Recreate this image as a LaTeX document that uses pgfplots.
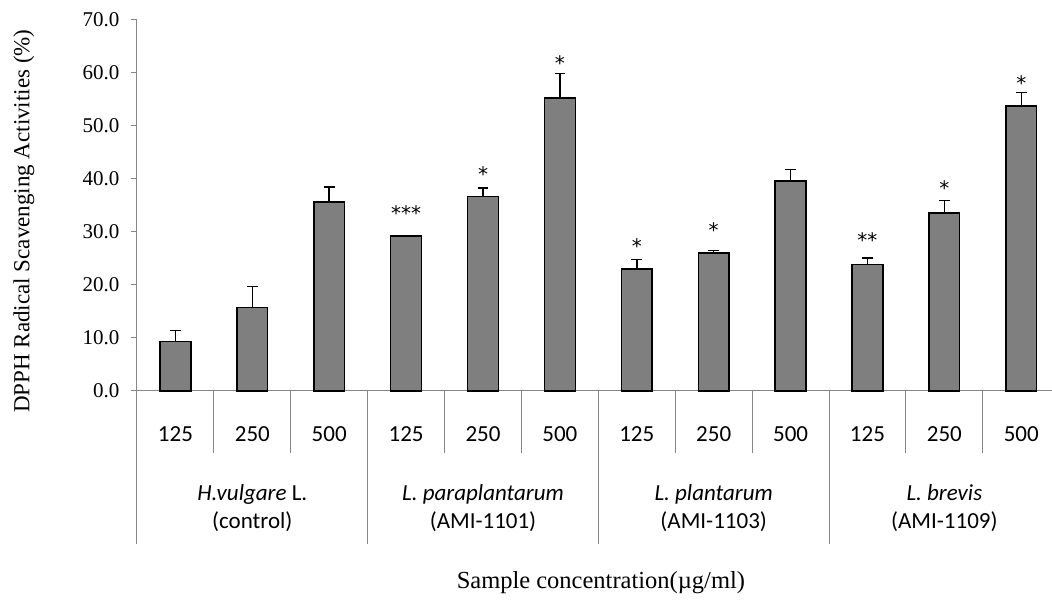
\documentclass[border=0pt]{standalone}
\usepackage{fontspec}
\setmainfont{Liberation Serif}
\newfontfamily\calibri{Carlito}
\newfontfamily\symfont{DejaVu Sans}
\usepackage{pgfplots}
\pgfplotsset{compat=1.18}
\usepackage{pgfplotstable}

\definecolor{barfill}{HTML}{7F7F7F}
\definecolor{axisgray}{HTML}{868686}

% DPPH scavenging activity (mean and upper error) per sample and concentration
\pgfplotstableread{
x  y    err
0  9.3  2.1
1  15.8 3.9
2  35.7 2.8
3  29.2 0.1
4  36.7 1.6
5  55.3 4.6
6  23.0 1.8
7  26.0 0.5
8  39.6 2.2
9  23.9 1.2
10 33.6 2.3
11 53.8 2.5
}\dpph

% significance marks (height of the mark centre)
\pgfplotstableread{
x  y    label
3  34.2 ***
4  41.6 *
5  62.5 *
6  28.0 *
7  31.0 *
9  29.1 **
10 38.9 *
11 58.8 *
}\stars

\begin{document}
\begin{tikzpicture}
\path[use as bounding box] (-137pt,-210pt) rectangle (915pt,391pt);
\begin{axis}[
  scale only axis,
  width=915pt, height=371pt,
  xmin=-0.5, xmax=11.4,
  ymin=0, ymax=70,
  clip=false,
  axis lines*=left,
  axis line style={axisgray, line width=1pt},
  tick align=outside,
  major tick length=6pt,
  ytick={0,10,...,70},
  y tick style={axisgray, line width=1pt},
  /pgf/number format/assume math mode=true,
  yticklabel={\fontsize{21}{25}\selectfont\pgfmathprintnumber[fixed,fixed zerofill,precision=1,assume math mode=true]{\tick}},
  yticklabel style={anchor=east, xshift=-8pt},
  xtick={0,...,11},
  xticklabels={125,250,500,125,250,500,125,250,500,125,250,500},
  x tick style={draw=none},
  xticklabel style={font=\calibri\fontsize{23}{28}\selectfont, anchor=center, yshift=-37pt},
  every axis y label/.style={at={(rel axis cs:0,0.458)}, xshift=-113pt, rotate=90, anchor=center,
    font=\fontsize{23}{27}\selectfont},
  ylabel={DPPH Radical Scavenging Activities (\%)},
  every axis x label/.style={at={(rel axis cs:0.507,0)}, yshift=-192pt, anchor=center,
    font=\fontsize{24.5}{28}\selectfont},
  xlabel={Sample concentration(µg/ml)},
]
\addplot[ybar, bar width=0.4, fill=barfill, draw=black, line width=1.5pt,
  error bars/.cd, y dir=plus, y explicit,
  error bar style={black, line width=1.5pt},
  error mark options={rotate=90, mark size=5.3pt, line width=1.5pt, black}]
  table[x=x, y=y, y error=err] {\dpph};

\addplot[only marks, mark=none, nodes near coords, point meta=explicit symbolic,
  nodes near coords style={anchor=base, yshift=-11pt, inner sep=0pt,
    font=\symfont\fontsize{20}{24}\selectfont}]
  table[x=x, y=y, meta=label] {\stars};

% separators of the category axis
\pgfplotsinvokeforeach{0.5,1.5,3.5,4.5,6.5,7.5,9.5,10.5}{
  \draw[axisgray, line width=1pt] (axis cs:#1,0) -- ++(0pt,-62pt);
}
\pgfplotsinvokeforeach{-0.5,2.5,5.5,8.5}{
  \draw[axisgray, line width=1pt] (axis cs:#1,0) -- ++(0pt,-153pt);
}

% sample names
\begin{scope}[every node/.style={font=\calibri\fontsize{23}{28}\selectfont, align=center}]
\node at (axis cs:1,0)  [yshift=-117pt] {\textit{H.vulgare} L.\\(control)};
\node at (axis cs:4,0)  [yshift=-117pt] {\textit{L. paraplantarum}\\(AMI-1101)};
\node at (axis cs:7,0)  [yshift=-117pt] {\textit{L. plantarum}\\(AMI-1103)};
\node at (axis cs:10,0) [yshift=-117pt] {\textit{L. brevis}\\(AMI-1109)};
\end{scope}
\end{axis}
\end{tikzpicture}
\end{document}
